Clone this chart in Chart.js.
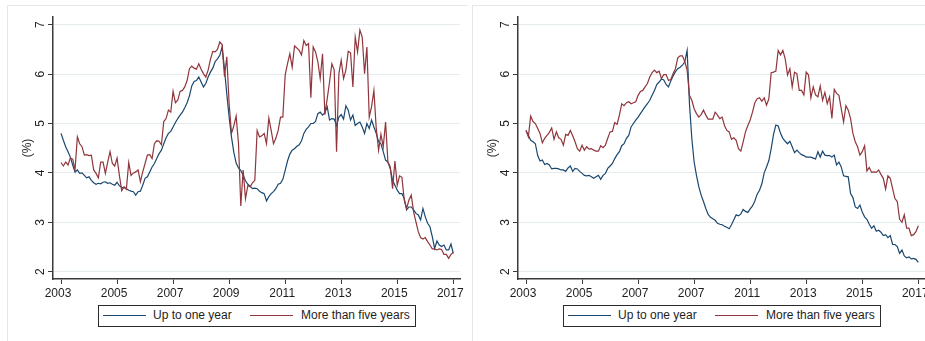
<!DOCTYPE html>
<html>
<head>
<meta charset="utf-8">
<title>Interest rates by maturity</title>
<script src="https://cdn.jsdelivr.net/npm/chart.js@4.4.1/dist/chart.umd.min.js"></script>
<style>
  html, body { margin: 0; padding: 0; background: #fff; overflow: hidden; }
  body { width: 925px; height: 341px; position: relative; font-family: "Liberation Sans", Arial, sans-serif; }
  .panel { position: absolute; top: 0; width: 465px; height: 341px; }
  .panel canvas { position: absolute; left: 0; top: 0; }
  .frame { position: absolute; left: 7px; top: 5px; width: 460px; height: 340px;
           border-top: 1px solid #e3e9eb; border-left: 1px solid #e3e9eb; }
  .legend { position: absolute; left: 98px; top: 305px; width: 318px; height: 22px;
            box-sizing: border-box; border: 1.5px solid #2b2b2b; background: #fff; }
  .key { position: absolute; top: 9px; height: 0; width: 43px; border-top: 1.3px solid; }
  .lab { position: absolute; top: 2px; font-size: 12px; line-height: 14px; color: #1e1e1e; white-space: nowrap; }
</style>
</head>
<body>
<div class="panel" style="left:0">
  <div class="frame"></div>
  <canvas id="left" width="465" height="341"></canvas>
  <div class="legend">
    <span class="key" style="left:4px;border-color:#1a476f"></span>
    <span class="lab" style="left:54px">Up to one year</span>
    <span class="key" style="left:151px;border-color:#90353b"></span>
    <span class="lab" style="left:202px">More than five years</span>
  </div>
</div>
<div class="panel" style="left:465px">
  <div class="frame"></div>
  <canvas id="right" width="465" height="341"></canvas>
  <div class="legend">
    <span class="key" style="left:4px;border-color:#1a476f"></span>
    <span class="lab" style="left:54px">Up to one year</span>
    <span class="key" style="left:151px;border-color:#90353b"></span>
    <span class="lab" style="left:202px">More than five years</span>
  </div>
</div>
<script>
// Monthly rates (%), January 2003 to January 2017, one row per year.
const shortLeft = [
  4.80,4.66,4.53,4.43,4.32,4.16,4.02,4.06,3.99,4.00,3.95,3.90,
  3.92,3.85,3.80,3.77,3.79,3.78,3.81,3.82,3.79,3.80,3.77,3.75,
  3.81,3.74,3.71,3.70,3.68,3.65,3.63,3.62,3.55,3.62,3.63,3.75,
  3.89,3.92,4.02,4.12,4.19,4.29,4.39,4.46,4.59,4.71,4.80,4.84,
  4.93,5.02,5.10,5.17,5.23,5.32,5.42,5.56,5.76,5.85,5.87,5.94,
  5.84,5.74,5.81,5.94,6.04,6.12,6.25,6.31,6.38,6.55,6.10,5.60,
  5.13,4.73,4.42,4.20,4.10,4.05,3.95,3.84,3.77,3.73,3.68,3.69,
  3.68,3.63,3.60,3.58,3.43,3.52,3.58,3.62,3.68,3.77,3.79,3.87,
  4.05,4.24,4.38,4.46,4.49,4.54,4.57,4.65,4.80,4.88,4.93,5.00,
  5.00,5.04,5.20,5.23,5.17,5.22,5.34,5.07,5.10,5.09,4.96,5.13,
  5.18,5.09,5.36,5.27,5.07,5.17,4.96,5.00,5.03,4.93,4.80,5.00,
  4.90,5.07,4.93,4.80,4.63,4.59,4.43,4.26,4.22,4.09,3.85,3.75,
  3.65,3.58,3.58,3.48,3.25,3.31,3.31,3.25,3.18,3.15,3.05,3.28,
  3.11,2.98,2.91,2.71,2.47,2.62,2.54,2.51,2.54,2.44,2.44,2.56,
  2.37
];
const longLeft = [
  4.21,4.14,4.22,4.16,4.30,4.28,4.06,4.73,4.59,4.53,4.36,4.37,
  4.35,4.36,4.06,3.99,3.90,4.22,4.22,3.99,4.22,4.43,4.19,4.14,
  4.30,3.95,3.64,3.72,3.67,4.21,3.95,4.00,4.02,4.06,3.82,4.02,
  4.19,4.36,4.37,4.29,4.59,4.65,4.64,4.57,5.04,5.10,5.27,5.23,
  5.65,5.42,5.47,5.65,5.67,5.74,5.87,6.11,6.16,6.12,6.10,6.21,
  6.10,6.01,5.94,6.08,6.30,6.46,6.45,6.50,6.65,6.60,5.95,6.35,
  5.40,4.80,4.95,5.15,4.60,3.33,4.06,3.48,3.74,3.72,3.80,3.85,
  4.86,4.73,4.75,4.80,4.59,5.11,4.86,4.59,4.70,4.86,5.13,5.13,
  5.98,6.21,6.41,6.14,6.57,6.53,6.48,6.39,6.68,6.58,6.62,5.52,
  6.55,6.45,6.25,5.91,6.41,5.18,5.50,5.84,6.21,6.08,4.43,6.01,
  6.28,5.91,6.08,6.46,6.43,5.74,6.75,6.45,6.89,6.75,6.01,6.55,
  5.13,5.34,5.67,4.90,4.46,4.78,4.53,5.03,4.22,4.12,3.68,4.24,
  3.75,3.94,3.91,3.45,3.28,3.45,3.55,3.21,3.01,2.81,2.69,2.66,
  2.69,2.61,2.54,2.46,2.46,2.44,2.46,2.45,2.35,2.35,2.27,2.35,
  2.39
];
const shortRight = [
  4.86,4.76,4.66,4.63,4.59,4.35,4.24,4.26,4.17,4.19,4.16,4.08,
  4.09,4.09,4.08,4.06,4.06,4.03,4.10,4.14,4.03,4.09,4.08,4.03,
  3.99,3.95,3.94,3.95,3.92,3.89,3.92,3.95,3.87,3.95,3.99,4.09,
  4.14,4.19,4.29,4.37,4.43,4.55,4.59,4.70,4.76,4.93,5.00,5.07,
  5.13,5.20,5.27,5.34,5.40,5.47,5.57,5.67,5.79,5.84,5.90,5.88,
  5.79,5.74,5.86,5.96,6.05,6.11,6.14,6.18,6.25,6.48,5.40,4.70,
  4.22,3.95,3.72,3.55,3.42,3.28,3.16,3.10,3.07,3.04,2.98,2.96,
  2.95,2.92,2.90,2.87,2.95,3.05,3.15,3.13,3.17,3.26,3.22,3.20,
  3.27,3.33,3.43,3.57,3.65,3.78,4.00,4.12,4.25,4.49,4.78,4.97,
  4.95,4.80,4.70,4.64,4.59,4.64,4.53,4.41,4.46,4.41,4.37,4.35,
  4.32,4.32,4.32,4.30,4.28,4.43,4.32,4.44,4.36,4.35,4.35,4.32,
  4.36,4.16,4.22,4.12,3.94,3.93,3.92,3.58,3.50,3.31,3.28,3.35,
  3.21,3.11,3.06,2.96,2.88,2.93,2.82,2.84,2.80,2.73,2.75,2.69,
  2.73,2.55,2.55,2.51,2.37,2.44,2.32,2.28,2.30,2.26,2.27,2.25,
  2.19
];
const longRight = [
  4.86,4.73,5.15,5.04,5.00,4.90,4.80,4.61,4.70,4.76,4.82,4.91,
  4.68,4.83,4.71,4.68,4.56,4.78,4.76,4.86,4.75,4.63,4.49,4.44,
  4.56,4.46,4.53,4.48,4.49,4.46,4.44,4.44,4.55,4.51,4.56,4.70,
  4.83,4.84,5.02,4.98,5.17,5.40,5.36,5.42,5.44,5.40,5.42,5.44,
  5.57,5.65,5.67,5.74,5.81,5.94,6.03,6.08,6.03,6.06,5.91,5.99,
  5.99,5.87,5.89,6.01,6.11,6.33,6.37,6.37,6.25,6.08,5.57,5.47,
  5.30,5.20,5.13,5.18,5.27,5.17,5.09,5.09,5.09,5.23,5.17,5.10,
  5.13,4.96,4.86,4.83,4.68,4.71,4.66,4.49,4.44,4.63,4.83,4.96,
  5.07,5.23,5.42,5.50,5.52,5.45,5.52,5.37,5.50,6.03,6.04,6.06,
  6.48,6.39,6.48,6.31,5.98,6.11,5.74,6.04,6.01,5.67,5.67,5.58,
  6.04,5.98,5.52,5.74,5.58,5.54,5.76,5.47,5.63,5.40,5.54,5.10,
  5.69,5.61,5.57,5.30,5.03,5.36,5.27,5.10,4.80,4.63,4.53,4.36,
  4.43,4.55,4.04,4.11,4.01,4.02,4.01,4.06,3.97,3.89,3.67,3.94,
  3.89,3.68,3.48,3.42,3.06,3.00,3.15,2.88,2.88,2.73,2.75,2.81,
  2.93
];

// Axis ticks: months counted from January 2003, and the labels printed under them.
const tickMonths = [0, 24, 48, 72, 96, 120, 144, 168];
const yearLabelsLeft  = ['2003', '2005', '2007', '2009', '2011', '2013', '2015', '2017'];
const yearLabelsRight = ['2003', '2005', '2007', '2007', '2011', '2013', '2015', '2017'];
const rateTicks = [2, 3, 4, 5, 6, 7];

const NAVY = '#1a476f';
const MAROON = '#90353b';
const INK = '#1e1e1e';
const AXIS = '#3a3a3a';

Chart.defaults.font.family = '"Liberation Sans", Arial, sans-serif';
Chart.defaults.font.size = 12;
Chart.defaults.color = INK;

function series(values) {
  return values.map((v, i) => ({ x: i, y: v }));
}

function drawPanel(id, shortRates, longRates, yearLabels) {
  new Chart(document.getElementById(id), {
    type: 'line',
    data: {
      datasets: [
        { label: 'Up to one year', data: series(shortRates), borderColor: NAVY,
          borderWidth: 1.2, pointRadius: 0, tension: 0, fill: false, order: 1 },
        { label: 'More than five years', data: series(longRates), borderColor: MAROON,
          borderWidth: 1.2, pointRadius: 0, tension: 0, fill: false, order: 0 }
      ]
    },
    options: {
      responsive: false,
      animation: false,
      devicePixelRatio: 1,
      layout: { padding: { left: 0, top: 17, right: 5, bottom: 0 } },
      plugins: { legend: { display: false }, tooltip: { enabled: false } },
      scales: {
        x: {
          type: 'linear',
          min: -3.43,
          max: 170.87,
          afterBuildTicks: s => { s.ticks = tickMonths.map(v => ({ value: v })); },
          afterFit: s => { s.height = 62; s.paddingLeft = 0; s.paddingRight = 0; },
          ticks: {
            callback: (v, i) => yearLabels[i],
            color: INK,
            padding: 2,
            labelOffset: -3,
            maxRotation: 0,
            minRotation: 0,
            autoSkip: false
          },
          grid: { drawOnChartArea: false, drawTicks: true, tickLength: 5, tickColor: AXIS, tickWidth: 1 },
          border: { color: AXIS, width: 1.5 }
        },
        y: {
          type: 'linear',
          min: 1.852,
          max: 7.156,
          afterBuildTicks: s => { s.ticks = rateTicks.map(v => ({ value: v })); },
          afterFit: s => { s.width = 53; s.paddingTop = 0; s.paddingBottom = 0; },
          ticks: {
            color: INK,
            padding: 4,
            minRotation: 90,
            maxRotation: 90,
            crossAlign: 'center'
          },
          title: { display: true, text: '(%)', color: INK, font: { size: 12 }, padding: { top: 20, bottom: 0 } },
          grid: { color: '#e4ecee', lineWidth: 1, drawTicks: true, tickLength: 5, tickColor: AXIS, tickWidth: 1 },
          border: { color: AXIS, width: 1.5 }
        }
      }
    }
  });
}

drawPanel('left', shortLeft, longLeft, yearLabelsLeft);
drawPanel('right', shortRight, longRight, yearLabelsRight);
</script>
</body>
</html>
